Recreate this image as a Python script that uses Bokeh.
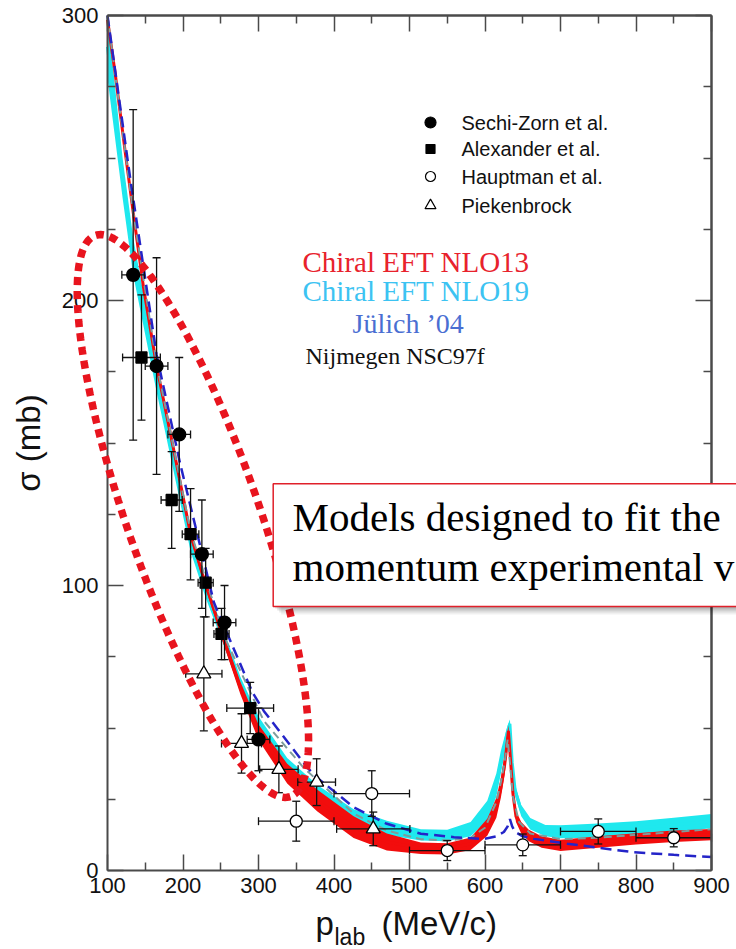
import math
from bokeh.plotting import figure
from bokeh.models import Label, PolyAnnotation, BoxAnnotation, ColumnDataSource, LinearAxis, FixedTicker
from bokeh.embed import file_html
from bokeh.resources import INLINE

# ---------------- data ----------------
x_ticks = [100, 200, 300, 400, 500, 600, 700, 800, 900]
x_minor = [150, 250, 350, 450, 550, 650, 750, 850]
y_ticks = [0, 100, 200, 300]
y_minor = [25, 50, 75, 125, 150, 175, 225, 250, 275]

# Chiral EFT NLO13 (red band): centre and half width
nlo13_p = [100, 110, 124, 134, 148, 165, 187, 210, 228, 254, 276, 300, 338, 378, 426, 470, 515, 550,
           581, 603, 615, 621, 626, 629, 631, 634, 637, 641, 648, 658, 675, 700, 750, 800, 850, 900]
nlo13_sigma = [298.5, 280, 251, 231, 204, 177, 148.5, 118, 102, 81, 64, 48.5, 34, 24.5, 15.2, 10, 7.8, 7.6,
               9.4, 15.2, 22, 29, 37, 44, 49, 38, 27, 19, 15, 12.3, 10, 8.8, 10, 11.1, 12, 12.6]
nlo13_half = [1.5, 1.5, 1.5, 1.5, 1.5, 1.5, 1.5, 1.5, 1.5, 1.8, 2.2, 2.7, 3.5, 3.8, 3.8, 3.0, 2.0, 2.0,
              2.2, 3.0, 3.5, 3.5, 3.5, 3.0, 2.0, 2.0, 2.0, 2.0, 2.0, 2.0, 2.0, 2.0, 2.0, 2.0, 2.0, 2.0]

# Chiral EFT NLO19 (cyan band)
nlo19_p = [100, 110, 120, 134, 150, 165, 190, 210, 230, 254, 276, 300, 338, 378, 426, 470, 515, 550,
           581, 603, 615, 621, 626, 630, 633, 636, 640, 648, 660, 680, 700, 750, 800, 850, 900]
nlo19_sigma = [289, 266, 243, 215.5, 193.5, 173, 141.5, 115.5, 98.5, 81.5, 65.5, 51.5, 37, 27.5, 19, 15,
               12.5, 12.3, 14.5, 21, 30, 38, 44, 49, 51.5, 38, 28, 21, 16.4, 14, 13.6, 14, 14.8, 16, 17.3]
nlo19_half = [11, 9, 7, 6.5, 5.5, 5, 4.5, 3.5, 2.8, 2.5, 2.5, 2.5, 2.5, 2.5, 2.5, 2.5, 2, 2,
              2.5, 3.5, 4, 4, 3, 2, 1.5, 2, 2, 2, 2, 2, 2.3, 2.5, 2.5, 2.5, 2.5]

# Juelich '04 (blue dashed)
juelich_p = [100, 130, 165, 196, 241, 292, 307, 365, 378, 426, 470, 515, 559, 598, 615, 625, 630,
             633, 636, 640, 650, 665, 709, 750, 797, 850, 900]
juelich_sigma = [300, 243, 181, 143, 94, 62.5, 56, 36, 32.5, 22.2, 16.4, 12.9, 11.7, 11, 12, 13.5, 15.5,
                 18, 15.5, 13.5, 12, 11.1, 9.4, 8, 6.4, 5.5, 4.7]

# Nijmegen NSC97f (grey dashed)
nijm_p = [100, 134, 165, 210, 254, 307, 360, 426, 470, 515, 550, 581, 600, 615, 621, 626, 630, 633,
          637, 645, 660, 700, 750, 800, 850, 900]
nijm_sigma = [300, 231, 178, 119, 82.5, 52.5, 36, 20, 14, 11, 10.5, 11.5, 15, 24, 31, 38, 46, 38,
              26, 17, 13, 11, 11.5, 12.5, 13.5, 14.5]

# experiments: value and errors
sechi_p = [134, 165, 195, 225, 255, 300]
sechi_sigma = [209, 177, 153, 111, 87, 46]
sechi_dp = [15, 15, 15, 15, 15, 15]
sechi_dsigma = [58, 38, 27, 19, 13, 11]

alex_p = [145, 185, 210, 230, 251, 289]
alex_sigma = [180, 130, 118, 101, 83, 57]
alex_dp = [25, 14, 11, 10, 10, 31]
alex_dsigma = [22, 17, 16, 12, 9, 9]

haupt_p = [350, 450, 550, 650, 750, 850]
haupt_sigma = [17.3, 27, 7, 9, 13.7, 11.5]
haupt_dp = [50, 50, 50, 50, 50, 50]
haupt_dsigma = [7, 8, 3.5, 3.8, 4.4, 3.2]

pieken_p = [227.6, 277.5, 327, 377, 452]
pieken_sigma = [69, 44.6, 35.5, 31, 14.6]
pieken_dp = [24, 26.5, 25.5, 25, 48.5]
pieken_dsigma = [20, 10.4, 8.2, 8.2, 5.9]

legend_names = ["Sechi-Zorn et al.", "Alexander et al.", "Hauptman et al.", "Piekenbrock"]
model_names = ["Chiral EFT NLO13", "Chiral EFT NLO19", "J\u00fclich \u201904", "Nijmegen NSC97f"]
# the note is cropped by the picture's right edge; only its visible part is written
note_lines = ["Models designed to fit the", "momentum experimental v"]

# ---------------- layout (pixels) ----------------
W, H = 736, 949
FL, FT, FR, FB = 107, 15, 711, 870          # where the data box sits on the canvas
X0, X1, Y0, Y1 = 100, 900, 0, 300


def dx(px):
    return X0 + (px - FL) * (X1 - X0) / (FR - FL)


def dy(py):
    return Y0 + (FB - py) * (Y1 - Y0) / (FB - FT)


RED = "#f20d0d"
CYAN = "#1fe8ee"
BLUE = "#2424c8"
GREY = "#7d9c9c"
AX = "#4a4a4a"
INK = "#111111"
SANS = "Liberation Sans"
SERIF = "Liberation Serif"

# The frame spans the whole canvas; the axes are pinned at the data-box edges
p = figure(width=W, height=H, x_range=(dx(0), dx(W)), y_range=(dy(H), dy(0)), output_backend="svg",
           toolbar_location=None, title=None, min_border=0,
           min_border_left=0, min_border_right=0, min_border_top=0, min_border_bottom=0)
p.grid.visible = False
p.outline_line_color = None
p.background_fill_color = "white"
p.border_fill_color = "white"


def base_style(ax):
    ax.axis_line_color = AX
    ax.axis_line_width = 2
    ax.major_tick_line_color = AX
    ax.minor_tick_line_color = AX
    ax.major_tick_line_width = 1.5
    ax.minor_tick_line_width = 1.5
    ax.major_tick_in = 16
    ax.major_tick_out = 0
    ax.minor_tick_in = 8
    ax.minor_tick_out = 0


xa = p.xaxis[0]
xa.ticker = FixedTicker(ticks=x_ticks, minor_ticks=x_minor)
xa.fixed_location = Y0
xa.bounds = (X0, X1)
base_style(xa)
xa.major_label_text_font = SANS
xa.major_label_text_font_size = "22px"
xa.major_label_text_color = INK
xa.major_label_standoff = 7

ya = p.yaxis[0]
ya.ticker = FixedTicker(ticks=y_ticks, minor_ticks=y_minor)
ya.fixed_location = X0
ya.bounds = (Y0, Y1)
base_style(ya)
ya.major_label_text_font = SANS
ya.major_label_text_font_size = "22px"
ya.major_label_text_color = INK
ya.major_label_standoff = 9
ya.axis_label = "\u03c3 (mb)"
ya.axis_label_text_font = SANS
ya.axis_label_text_font_size = "33px"
ya.axis_label_text_font_style = "normal"
ya.axis_label_text_color = INK
ya.axis_label_standoff = 12

# mirrored ticks on top and right (no labels: ticks are given as minor ticks only)
for side, loc, bnds, positions, length in (
        ("above", Y1, (X0, X1), x_ticks, 16), ("above", Y1, (X0, X1), x_minor, 8),
        ("right", X1, (Y0, Y1), y_ticks, 16), ("right", X1, (Y0, Y1), y_minor, 8)):
    ax = LinearAxis(ticker=FixedTicker(ticks=[], minor_ticks=positions), fixed_location=loc, bounds=bnds)
    base_style(ax)
    ax.minor_tick_in = length
    ax.axis_label = None
    p.add_layout(ax, side)

# ---------------- model curves ----------------
lo19 = [c - h for c, h in zip(nlo19_sigma, nlo19_half)]
hi19 = [c + h for c, h in zip(nlo19_sigma, nlo19_half)]
p.varea(x=nlo19_p, y1=lo19, y2=hi19, fill_color=CYAN)
p.line(nlo19_p, nlo19_sigma, line_color=CYAN, line_width=3)

lo13 = [c - h for c, h in zip(nlo13_sigma, nlo13_half)]
hi13 = [c + h for c, h in zip(nlo13_sigma, nlo13_half)]
p.varea(x=nlo13_p, y1=lo13, y2=hi13, fill_color=RED)
p.line(nlo13_p, nlo13_sigma, line_color=RED, line_width=3)

p.line(nijm_p, nijm_sigma, line_color=GREY, line_width=2, line_dash="8 5")
p.line(juelich_p, juelich_sigma, line_color=BLUE, line_width=2.5, line_dash="11 6")


# ---------------- data points with error bars ----------------
def add_points(xs, ys, dxs, dys, marker, size, fill):
    src = ColumnDataSource(dict(
        x=xs, y=ys,
        xl=[a - b for a, b in zip(xs, dxs)], xu=[a + b for a, b in zip(xs, dxs)],
        yl=[a - b for a, b in zip(ys, dys)], yu=[a + b for a, b in zip(ys, dys)]))
    p.segment(x0="x", y0="yl", x1="x", y1="yu", source=src, line_color=INK, line_width=1.3)
    p.segment(x0="xl", y0="y", x1="xu", y1="y", source=src, line_color=INK, line_width=1.3)
    for cx_, cy_, ang in (("x", "yl", 0), ("x", "yu", 0), ("xl", "y", math.pi / 2), ("xu", "y", math.pi / 2)):
        p.scatter(cx_, cy_, source=src, marker="dash", size=8, angle=ang, line_color=INK, line_width=1.3)
    p.scatter("x", "y", source=src, marker=marker, size=size, fill_color=fill,
              line_color="black", line_width=1.3)


add_points(pieken_p, pieken_sigma, pieken_dp, pieken_dsigma, "triangle", 14, "white")
add_points(haupt_p, haupt_sigma, haupt_dp, haupt_dsigma, "circle", 12, "white")
add_points(alex_p, alex_sigma, alex_dp, alex_dsigma, "square", 11, "black")
add_points(sechi_p, sechi_sigma, sechi_dp, sechi_dsigma, "circle", 13, "black")

# ---------------- legend (manual) ----------------
leg_rows_px = [122, 148.5, 176, 205]
leg_markers = [("circle", 11, "black"), ("square", 9, "black"), ("circle", 10, "white"), ("triangle", 11, "white")]
for (mk, sz, fc), ypx, name in zip(leg_markers, leg_rows_px, legend_names):
    p.scatter([dx(430)], [dy(ypx)], marker=mk, size=sz, fill_color=fc, line_color="black", line_width=1.2)
    p.add_layout(Label(x=dx(461), y=dy(ypx), text=name, text_font=SANS, text_font_size="20px",
                       text_baseline="middle", text_align="left", text_color=INK))

model_colors = ["#e8222c", "#3cc3f2", "#4a6ed2", INK]
model_left_px = [302, 302, 352, 305]
model_y_px = [261, 290, 323, 355]
model_sizes = ["29px", "29px", "28px", "24px"]
for name, col, lx, ly, fs in zip(model_names, model_colors, model_left_px, model_y_px, model_sizes):
    p.add_layout(Label(x=dx(lx), y=dy(ly), text=name, text_font=SERIF, text_font_size=fs,
                       text_baseline="middle", text_align="left", text_color=col))

# ---------------- dotted ellipse highlight ----------------
cx, cy, a_ax, b_ax, th = 192.4, 515.5, 297.0, 66.0, math.radians(70.85)
exs, eys = [], []
for i in range(241):
    t = 2 * math.pi * i / 240
    px = cx + a_ax * math.cos(th) * math.cos(t) - b_ax * math.sin(th) * math.sin(t)
    py = cy + a_ax * math.sin(th) * math.cos(t) + b_ax * math.cos(th) * math.sin(t)
    exs.append(dx(px))
    eys.append(dy(py))
p.add_layout(PolyAnnotation(xs=exs, ys=eys, fill_color=None, fill_alpha=0, line_color="#e8141e",
                            line_alpha=1.0, line_width=7.5, line_dash="8 6"))

# ---------------- note box ----------------
BOX_L, BOX_T, BOX_B, BOX_R = 272.7, 483.3, 606.0, 770.0
for off, alpha in ((8, 0.06), (6, 0.08), (4, 0.10), (2, 0.12)):
    p.add_layout(BoxAnnotation(left=dx(BOX_L + off), right=dx(BOX_R + off), top=dy(BOX_T + off),
                               bottom=dy(BOX_B + off), fill_color="black", fill_alpha=alpha,
                               line_color=None, line_alpha=0))
p.add_layout(BoxAnnotation(left=dx(BOX_L), right=dx(BOX_R), top=dy(BOX_T), bottom=dy(BOX_B),
                           fill_color="white", fill_alpha=1.0, line_color="#e0202a", line_alpha=1.0,
                           line_width=1.5))
for line_txt, mid_px in zip(note_lines, (516, 566)):
    p.add_layout(Label(x=dx(292), y=dy(mid_px), text=line_txt, text_font=SERIF, text_font_size="41px",
                       text_baseline="middle", text_align="left", text_color="black"))

# ---------------- x-axis title  p_lab (MeV/c) ----------------
p.add_layout(Label(x=dx(315), y=dy(923), text="p", text_font=SANS, text_font_size="33px",
                   text_baseline="middle", text_align="left", text_color=INK))
p.add_layout(Label(x=dx(334), y=dy(936), text="lab", text_font=SANS, text_font_size="23px",
                   text_baseline="middle", text_align="left", text_color=INK))
p.add_layout(Label(x=dx(381), y=dy(923), text="(MeV/c)", text_font=SANS, text_font_size="33px",
                   text_baseline="middle", text_align="left", text_color=INK))

open("out.html", "w").write(file_html(p, INLINE))
